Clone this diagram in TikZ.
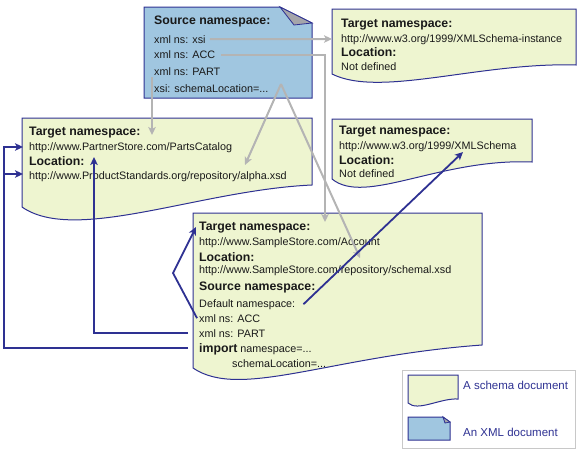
\documentclass[tikz,border=0pt]{standalone}
\usepackage{fontspec}
\setmainfont{Liberation Sans}
\usetikzlibrary{arrows.meta}
\definecolor{navy}{RGB}{46,49,146}
\definecolor{docgreen}{RGB}{238,245,208}
\definecolor{docblue}{RGB}{160,198,224}
\definecolor{arrgray}{RGB}{180,180,180}
\definecolor{flapgray}{RGB}{165,165,170}
\definecolor{legborder}{RGB}{200,200,200}
\definecolor{txt}{RGB}{25,25,25}
\begin{document}
\begin{tikzpicture}[x=1pt,y=-1pt,
  docshape/.style={draw=navy, line width=1pt, fill=docgreen},
  srcshape/.style={draw=navy, line width=1pt, fill=docblue},
  flap/.style={draw=navy, line width=0.8pt, fill=flapgray},
  hd/.style={anchor=base west, inner sep=0pt, text=txt, font=\fontsize{12.3}{14}\selectfont\bfseries},
  bd/.style={anchor=base west, inner sep=0pt, text=txt, font=\fontsize{10.8}{13}\selectfont},
  legtext/.style={anchor=base west, inner sep=0pt, text=navy, font=\fontsize{11.5}{13}\selectfont},
  grayarr/.style={draw=arrgray, line width=2pt, -{Stealth[length=8pt,width=7.5pt,inset=2pt]}},
  navyarr/.style={draw=navy, line width=1.8pt, -{Stealth[length=8pt,width=7.5pt,inset=2pt]}},
  navyline/.style={draw=navy, line width=1.8pt}]
\useasboundingbox (0,0) rectangle (580,453);

% ---------- document shapes ----------
\path[srcshape] (144,7) -- (280,7) -- (312,23) -- (312,98) -- (144,98) -- cycle;
\path[flap] (280,7) -- (312,23) -- (294,25) -- cycle;
\path[docshape] (332,9) -- (576,9) -- (576,65) .. controls (480,62) and (380,98) .. (332,74) -- cycle;
\path[docshape] (22,118) -- (312,118) -- (312,185) .. controls (200,190) and (75,244) .. (22,207) -- cycle;
\path[docshape] (332,119) -- (532,119) -- (532,162) .. controls (440,158) and (365,206) .. (332,179) -- cycle;
\path[docshape] (193,213) -- (482,213) -- (482,345) .. controls (330,356) and (240,400) .. (193,368) -- cycle;

% ---------- texts ----------
\node[hd] (srcH) at (154,24.5) {Source namespace:};
\node[bd] (sXsi) at (154,43) {xml ns: xsi};
\node[bd] (sAcc) at (154,58.5) {xml ns: ACC};
\node[bd] (sPart) at (154,75) {xml ns: PART};
\node[bd] (sLoc) at (154,92) {xsi: schemaLocation=...};

\node[hd] (iH) at (341,27.5) {Target namespace:};
\node[bd] (iU) at (341,42) {http://www.w3.org/1999/XMLSchema-instance};
\node[hd] (iL) at (341,56.5) {Location:};
\node[bd] (iN) at (341,70) {Not defined};

\node[hd] (pH) at (29,135.5) {Target namespace:};
\node[bd] (pU) at (29,150) {http://www.PartnerStore.com/PartsCatalog};
\node[hd] (pL) at (29,165.5) {Location:};
\node[bd] (pN) at (29,179) {http://www.ProductStandards.org/repository/alpha.xsd};

\node[hd] (xH) at (339,134.5) {Target namespace:};
\node[bd] (xU) at (339,149) {http://www.w3.org/1999/XMLSchema};
\node[hd] (xL) at (339,164.5) {Location:};
\node[bd] (xN) at (339,177) {Not defined};

\node[hd] (aH) at (199,230.5) {Target namespace:};
\node[bd] (aU) at (199,245) {http://www.SampleStore.com/Account};
\node[hd] (aL) at (199,261) {Location:};
\node[bd] (aN) at (199,273) {http://www.SampleStore.com/repository/schemal.xsd};
\node[hd] (aS) at (199,290.5) {Source namespace:};
\node[bd] (aDef) at (199,307) {Default namespace:};
\node[bd] (aAcc) at (199,322) {xml ns: ACC};
\node[bd] (aPart) at (199,337) {xml ns: PART};
\node[bd] (aImp) at (199,352.5) {\fontsize{12.3}{14}\selectfont\bfseries import\fontsize{10.8}{13}\selectfont\mdseries{} namespace=...};
\node[bd] (aSL) at (232,367) {schemaLocation=...};

% ---------- legend ----------
\path[draw=legborder, line width=1pt] (402,370) rectangle (575,448);
\path[docshape] (408,375) -- (458,375) -- (458,399) .. controls (440,398) and (418,412) .. (408,403) -- cycle;
\path[srcshape] (408,417) -- (443,417) -- (450,422) -- (450,440) -- (408,440) -- cycle;
\path[flap] (443,417) -- (450,422) -- (445,423) -- cycle;
\node[legtext] (leg1) at (463,389) {A schema document};
\node[legtext] (leg2) at (463,436) {An XML document};

% ---------- connector end points ----------
\coordinate (instIn) at (332,39);
\coordinate (acctIn) at (325,222);
\coordinate (partStart) at (152,77);
\coordinate (partsNs) at (152,135);
\coordinate (apex) at (281,84);
\coordinate (alphaIn) at (245,165);
\coordinate (schemalIn) at (360,258);
\coordinate (schemaIn) at (463,152);
\coordinate (accBend) at (173,273);
\coordinate (accTgtIn) at (196,227);
\coordinate (partsUp) at (94,157);
\coordinate (impStart) at (188,348);
\coordinate (leftTop) at (4,147);
\coordinate (leftMid) at (4,174);
\coordinate (partsNsIn) at (23,147);
\coordinate (partsLocIn) at (23,174);

% ---------- gray connectors ----------
\draw[grayarr] ([xshift=4pt]sXsi.east) -- (instIn);
\draw[grayarr] ([xshift=6pt]sAcc.east) -| (acctIn);
\draw[grayarr] (partStart) -- (partsNs);
\draw[grayarr] (apex) -- (alphaIn);
\draw[grayarr] (apex) -- (schemalIn);

% ---------- navy connectors ----------
\draw[navyarr] ([xshift=8pt]aDef.east) -- (schemaIn);
\draw[navyarr] ([xshift=-2pt]aAcc.west) -- (accBend) -- (accTgtIn);
\draw[navyarr] ([xshift=-11pt]aPart.west) -| (partsUp);
\draw[navyarr] (impStart) -| (leftTop) -- (partsNsIn);
\draw[navyarr] (leftMid) -- (partsLocIn);
\end{tikzpicture}
\end{document}
